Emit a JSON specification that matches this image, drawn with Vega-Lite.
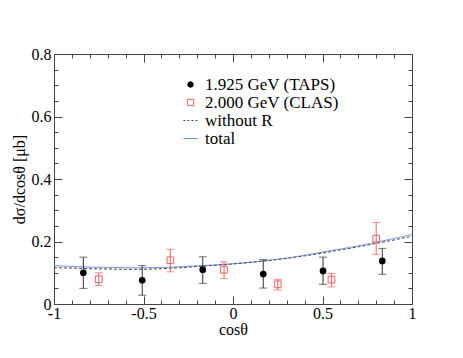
{
  "$schema": "https://vega.github.io/schema/vega-lite/v6.json",
  "width": 358,
  "height": 250,
  "autosize": {"type": "none"},
  "padding": {"left": 54, "top": 54, "right": 51, "bottom": 54},
  "background": "white",
  "config": {
    "view": {"stroke": "#444", "strokeWidth": 1},
    "font": "Liberation Serif",
    "axis": {"labelFont": "Liberation Serif", "titleFont": "Liberation Serif", "labelFontSize": 16, "titleFontSize": 16, "labelColor": "black", "titleColor": "black", "titleFontWeight": "normal", "domain": false, "grid": false, "tickColor": "#444"}
  },
  "datasets": {
    "taps": [
      {"c": -0.836, "y": 0.100, "lo": 0.050, "hi": 0.150, "series": "1.925 GeV (TAPS)"},
      {"c": -0.507, "y": 0.076, "lo": 0.028, "hi": 0.123, "series": "1.925 GeV (TAPS)"},
      {"c": -0.169, "y": 0.110, "lo": 0.066, "hi": 0.151, "series": "1.925 GeV (TAPS)"},
      {"c": 0.169, "y": 0.096, "lo": 0.051, "hi": 0.142, "series": "1.925 GeV (TAPS)"},
      {"c": 0.503, "y": 0.106, "lo": 0.063, "hi": 0.150, "series": "1.925 GeV (TAPS)"},
      {"c": 0.834, "y": 0.138, "lo": 0.095, "hi": 0.178, "series": "1.925 GeV (TAPS)"}
    ],
    "clas": [
      {"c": -0.75, "y": 0.079, "lo": 0.059, "hi": 0.100, "series": "2.000 GeV (CLAS)"},
      {"c": -0.35, "y": 0.140, "lo": 0.103, "hi": 0.175, "series": "2.000 GeV (CLAS)"},
      {"c": -0.05, "y": 0.110, "lo": 0.082, "hi": 0.135, "series": "2.000 GeV (CLAS)"},
      {"c": 0.25, "y": 0.063, "lo": 0.045, "hi": 0.079, "series": "2.000 GeV (CLAS)"},
      {"c": 0.55, "y": 0.078, "lo": 0.055, "hi": 0.098, "series": "2.000 GeV (CLAS)"},
      {"c": 0.80, "y": 0.209, "lo": 0.159, "hi": 0.261, "series": "2.000 GeV (CLAS)"}
    ],
    "curves": [
      {"c": -1.0, "y": 0.123, "series": "total"}, {"c": -0.9, "y": 0.120, "series": "total"}, {"c": -0.8, "y": 0.118, "series": "total"}, {"c": -0.7, "y": 0.117, "series": "total"}, {"c": -0.6, "y": 0.116, "series": "total"}, {"c": -0.5, "y": 0.116, "series": "total"}, {"c": -0.4, "y": 0.117, "series": "total"}, {"c": -0.3, "y": 0.119, "series": "total"}, {"c": -0.2, "y": 0.122, "series": "total"}, {"c": -0.1, "y": 0.125, "series": "total"}, {"c": 0.0, "y": 0.129, "series": "total"}, {"c": 0.1, "y": 0.134, "series": "total"}, {"c": 0.2, "y": 0.140, "series": "total"}, {"c": 0.3, "y": 0.147, "series": "total"}, {"c": 0.4, "y": 0.156, "series": "total"}, {"c": 0.5, "y": 0.166, "series": "total"}, {"c": 0.6, "y": 0.176, "series": "total"}, {"c": 0.7, "y": 0.186, "series": "total"}, {"c": 0.8, "y": 0.197, "series": "total"}, {"c": 0.9, "y": 0.210, "series": "total"}, {"c": 1.0, "y": 0.223, "series": "total"},
      {"c": -1.0, "y": 0.116, "series": "without R"}, {"c": -0.9, "y": 0.115, "series": "without R"}, {"c": -0.8, "y": 0.113, "series": "without R"}, {"c": -0.7, "y": 0.112, "series": "without R"}, {"c": -0.6, "y": 0.111, "series": "without R"}, {"c": -0.5, "y": 0.111, "series": "without R"}, {"c": -0.4, "y": 0.113, "series": "without R"}, {"c": -0.3, "y": 0.116, "series": "without R"}, {"c": -0.2, "y": 0.120, "series": "without R"}, {"c": -0.1, "y": 0.124, "series": "without R"}, {"c": 0.0, "y": 0.128, "series": "without R"}, {"c": 0.1, "y": 0.133, "series": "without R"}, {"c": 0.2, "y": 0.139, "series": "without R"}, {"c": 0.3, "y": 0.146, "series": "without R"}, {"c": 0.4, "y": 0.154, "series": "without R"}, {"c": 0.5, "y": 0.163, "series": "without R"}, {"c": 0.6, "y": 0.173, "series": "without R"}, {"c": 0.7, "y": 0.183, "series": "without R"}, {"c": 0.8, "y": 0.194, "series": "without R"}, {"c": 0.9, "y": 0.205, "series": "without R"}, {"c": 1.0, "y": 0.217, "series": "without R"}
    ]
  },
  "resolve": {"axis": {"x": "independent", "y": "independent"}},
  "layer": [
    {
      "data": {"name": "curves"},
      "mark": {"type": "line", "strokeWidth": 1, "clip": true},
      "encoding": {
        "x": {"field": "c", "type": "quantitative", "scale": {"domain": [-1, 1], "nice": false, "zero": false},
          "axis": {"title": "cosθ", "values": [-1, -0.9, -0.8, -0.7, -0.6, -0.5, -0.4, -0.3, -0.2, -0.1, 0, 0.1, 0.2, 0.3, 0.4, 0.5, 0.6, 0.7, 0.8, 0.9, 1],
            "labelExpr": "abs(datum.value*2 - round(datum.value*2)) < 0.001 ? '' + datum.value : ''",
            "tickSize": {"condition": {"test": "abs(datum.value*2 - round(datum.value*2)) < 0.001", "value": -8}, "value": -4},
            "labelPadding": 9, "titlePadding": -4, "labelFlush": false, "labelOverlap": false}},
        "y": {"field": "y", "type": "quantitative", "scale": {"domain": [0, 0.8], "nice": false},
          "axis": {"title": "dσ/dcosθ [μb]", "values": [0, 0.05, 0.1, 0.15, 0.2, 0.25, 0.3, 0.35, 0.4, 0.45, 0.5, 0.55, 0.6, 0.65, 0.7, 0.75, 0.8],
            "labelExpr": "abs(datum.value*5 - round(datum.value*5)) < 0.001 ? '' + datum.value : ''",
            "tickSize": {"condition": {"test": "abs(datum.value*5 - round(datum.value*5)) < 0.001", "value": -8}, "value": -4},
            "labelPadding": 11, "titlePadding": 4, "labelOverlap": false, "labelFlush": false}},
        "color": {"field": "series", "type": "nominal",
          "scale": {"domain": ["1.925 GeV (TAPS)", "2.000 GeV (CLAS)", "without R", "total"], "range": ["black", "#f06060", "#444444", "#6f8ff0"]},
          "legend": {"orient": "none", "legendX": 128, "legendY": 22, "title": null, "labelFontSize": 17, "labelFont": "Liberation Serif", "labelColor": "black", "rowPadding": 0, "symbolSize": 200, "labelOffset": 6,
            "encode": {"symbols": {"update": {
              "shape": {"signal": "datum.value == '1.925 GeV (TAPS)' ? 'circle' : (datum.value == '2.000 GeV (CLAS)' ? 'square' : 'stroke')"},
              "size": {"signal": "datum.value == '1.925 GeV (TAPS)' ? 30 : (datum.value == '2.000 GeV (CLAS)' ? 40 : 200)"},
              "fill": {"signal": "datum.value == '1.925 GeV (TAPS)' ? 'black' : 'white'"},
              "fillOpacity": {"signal": "datum.value == '1.925 GeV (TAPS)' ? 1 : 0"},
              "stroke": {"signal": "datum.value == '1.925 GeV (TAPS)' ? 'black' : (datum.value == '2.000 GeV (CLAS)' ? '#f06060' : (datum.value == 'without R' ? '#444444' : '#6f8ff0'))"},
              "strokeDash": {"signal": "datum.value == 'without R' ? [2, 2] : []"},
              "strokeWidth": {"value": 1},
              "strokeOpacity": {"value": 1},
              "opacity": {"value": 1}
            }}}}},
        "strokeDash": {"field": "series", "type": "nominal", "scale": {"domain": ["without R", "total"], "range": [[3, 2], [1, 0]]}, "legend": null}
      }
    },
    {
      "data": {"name": "taps"},
      "mark": {"type": "rule", "color": "#333", "strokeWidth": 1},
      "encoding": {
        "x": {"field": "c", "type": "quantitative", "scale": {"domain": [-1, 1], "nice": false, "zero": false},
          "axis": {"title": null, "orient": "top", "labels": false, "values": [-1, -0.9, -0.8, -0.7, -0.6, -0.5, -0.4, -0.3, -0.2, -0.1, 0, 0.1, 0.2, 0.3, 0.4, 0.5, 0.6, 0.7, 0.8, 0.9, 1],
            "tickSize": {"condition": {"test": "abs(datum.value*2 - round(datum.value*2)) < 0.001", "value": -8}, "value": -4}}},
        "y": {"field": "lo", "type": "quantitative", "scale": {"domain": [0, 0.8], "nice": false},
          "axis": {"title": null, "orient": "right", "labels": false, "values": [0, 0.05, 0.1, 0.15, 0.2, 0.25, 0.3, 0.35, 0.4, 0.45, 0.5, 0.55, 0.6, 0.65, 0.7, 0.75, 0.8],
            "tickSize": {"condition": {"test": "abs(datum.value*5 - round(datum.value*5)) < 0.001", "value": -8}, "value": -4}}},
        "y2": {"field": "hi"}
      }
    },
    {
      "data": {"name": "taps"},
      "mark": {"type": "tick", "orient": "horizontal", "size": 8, "thickness": 1, "color": "#333"},
      "encoding": {
        "x": {"field": "c", "type": "quantitative", "axis": null},
        "y": {"field": "lo", "type": "quantitative", "axis": null}
      }
    },
    {
      "data": {"name": "taps"},
      "mark": {"type": "tick", "orient": "horizontal", "size": 8, "thickness": 1, "color": "#333"},
      "encoding": {
        "x": {"field": "c", "type": "quantitative", "axis": null},
        "y": {"field": "hi", "type": "quantitative", "axis": null}
      }
    },
    {
      "data": {"name": "taps"},
      "mark": {"type": "point", "shape": "circle", "filled": true, "size": 45, "opacity": 1},
      "encoding": {
        "x": {"field": "c", "type": "quantitative", "axis": null},
        "y": {"field": "y", "type": "quantitative", "axis": null},
        "color": {"field": "series", "type": "nominal"}
      }
    },
    {
      "data": {"name": "clas"},
      "mark": {"type": "rule", "color": "#f06060", "strokeWidth": 1},
      "encoding": {
        "x": {"field": "c", "type": "quantitative", "axis": null},
        "y": {"field": "lo", "type": "quantitative", "axis": null},
        "y2": {"field": "hi"}
      }
    },
    {
      "data": {"name": "clas"},
      "mark": {"type": "tick", "orient": "horizontal", "size": 8, "thickness": 1, "color": "#f06060"},
      "encoding": {
        "x": {"field": "c", "type": "quantitative", "axis": null},
        "y": {"field": "lo", "type": "quantitative", "axis": null}
      }
    },
    {
      "data": {"name": "clas"},
      "mark": {"type": "tick", "orient": "horizontal", "size": 8, "thickness": 1, "color": "#f06060"},
      "encoding": {
        "x": {"field": "c", "type": "quantitative", "axis": null},
        "y": {"field": "hi", "type": "quantitative", "axis": null}
      }
    },
    {
      "data": {"name": "clas"},
      "mark": {"type": "point", "shape": "square", "filled": false, "size": 45, "opacity": 1, "strokeWidth": 1},
      "encoding": {
        "x": {"field": "c", "type": "quantitative", "axis": null},
        "y": {"field": "y", "type": "quantitative", "axis": null},
        "color": {"field": "series", "type": "nominal"}
      }
    }
  ]
}
